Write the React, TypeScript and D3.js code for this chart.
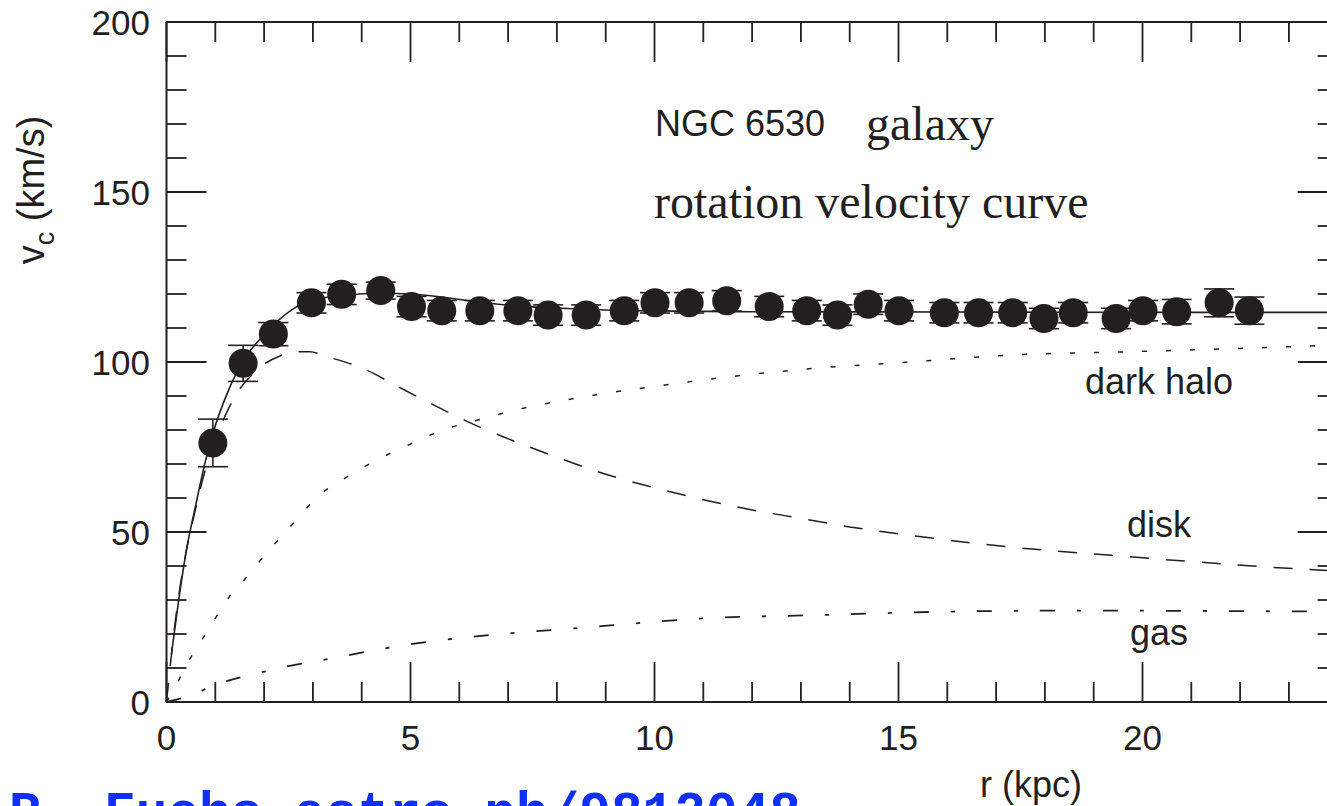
import React from "react";
import * as d3 from "d3";

// ---- data ----
const obsR = [0.95, 1.57, 2.19, 2.97, 3.59, 4.39, 5.02, 5.64, 6.42, 7.2, 7.82, 8.6, 9.38, 10.01, 10.71, 11.48, 12.35, 13.12, 13.75, 14.38, 15.01, 15.94, 16.64, 17.34, 17.98, 18.58, 19.46, 20.01, 20.7, 21.57, 22.19];
const obsV = [76.2, 99.6, 108.2, 117.4, 119.9, 121, 116.3, 115.1, 115.1, 115.1, 113.8, 113.8, 115.1, 117.4, 117.4, 118, 116.3, 115.1, 113.8, 117, 115.1, 114.5, 114.5, 114.5, 112.8, 114.5, 112.8, 115.1, 114.8, 117.4, 115.1];
const obsErr = [7, 5.3, 3.4, 3, 3, 2.5, 3, 3, 3, 3, 3, 3, 3, 3, 3, 3, 3, 3, 3, 3, 3, 3, 3, 3, 3, 3, 3, 3, 3.6, 4.1, 4];

const fitR = [0.1, 0.25, 0.4, 0.6, 0.8, 0.95, 1.25, 1.6, 2.0, 2.2, 2.7, 3.2, 3.8, 4.4, 5.0, 5.6, 6.2, 6.8, 7.5, 8.5, 9.5, 12, 16, 20, 24];
const fitV = [14, 30, 44, 58, 71, 79, 91, 101, 108, 111, 116.5, 118.8, 119.8, 120.2, 120, 119.2, 118, 117, 116.2, 115.6, 115.1, 114.8, 114.7, 114.6, 114.6];

const diskR = [0, 0.2, 0.4, 0.6, 0.79, 1.0, 1.36, 1.85, 2.36, 2.6, 2.94, 3.28, 4.03, 4.75, 5.47, 6.18, 6.9, 7.79, 9, 10, 11, 12, 13, 14, 15.2, 17, 19.3, 21, 23.6, 24];
const diskV = [0, 26, 44, 57, 68, 77, 88.8, 97.6, 102, 103, 103, 101.6, 98.1, 92.7, 87.4, 82.4, 78, 73.1, 67, 63, 59.5, 56.5, 54, 51.5, 49.1, 46, 43.2, 41.3, 38.8, 38.5];

const haloR = [0, 0.2, 0.43, 0.7, 0.96, 1.21, 1.6, 2.0, 2.5, 3.18, 3.62, 4.03, 4.48, 4.96, 5.4, 5.88, 6.32, 6.83, 7.31, 7.79, 9, 10, 11.27, 13.25, 15.24, 17.22, 19.68, 22, 24];
const haloV = [0, 5, 11.4, 17.7, 23.6, 29.5, 36, 43, 51, 61.4, 65.5, 69, 72.4, 75.6, 78.5, 81, 82.7, 84.7, 86.4, 87.8, 90.8, 92.8, 95.2, 98.1, 100, 102, 103, 104, 105];

const gasR = [0, 0.4, 0.8, 1.21, 1.8, 2.44, 3.08, 4.37, 5.0, 5.65, 7.02, 8.39, 9.58, 10.77, 13.45, 16.1, 18.76, 22.3, 24];
const gasV = [0, 1.5, 3.8, 6, 8.2, 10.4, 12, 15.5, 17, 18.2, 20.2, 21.7, 23.1, 24.4, 25.6, 26.6, 26.9, 26.7, 26.6];

const xMajor = [0, 5, 10, 15, 20];
const yMajor = [0, 50, 100, 150, 200];

const labels = [
  { text: "dark halo", r: 20.34, v: 90.7 },
  { text: "disk", r: 20.34, v: 48.5 },
  { text: "gas", r: 20.34, v: 16.8 },
];

const INK = "#231f20";
const SANS = "'Liberation Sans', Arial, Helvetica, sans-serif";
const SERIF = "'Liberation Serif', 'Times New Roman', serif";
const MONO = "'Liberation Mono', 'Courier New', monospace";

export default function App() {
  const left = 166.5, right = 1337.7, top = 22, bottom = 702;
  const x = d3.scaleLinear().domain([0, 24]).range([left, right]);
  const y = d3.scaleLinear().domain([0, 200]).range([bottom, top]);

  const line = d3
    .line<[number, number]>()
    .x((d) => x(d[0]))
    .y((d) => y(d[1]))
    .curve(d3.curveMonotoneX);
  const zip = (a: number[], b: number[]) => a.map((v, i) => [v, b[i]] as [number, number]);

  const xMinor = d3.range(0, 25, 1);
  const yMinor = d3.range(0, 201, 10);

  return (
    <svg
      width={1327}
      height={806}
      style={{ position: "absolute", left: 0, top: 0, background: "#fff" }}
    >
      <rect x={0} y={0} width={1327} height={806} fill="#fff" />
      {/* curves */}
      <path d={line(zip(haloR, haloV)) || ""} fill="none" stroke={INK} strokeWidth={1.5} strokeDasharray="5,19" />
      <path d={line(zip(diskR, diskV)) || ""} fill="none" stroke={INK} strokeWidth={1.5} strokeDasharray="19,17" />
      <path d={line(zip(gasR, gasV)) || ""} fill="none" stroke={INK} strokeWidth={1.8} strokeDasharray="15,22,4,22" />
      <path d={line(zip(fitR, fitV)) || ""} fill="none" stroke={INK} strokeWidth={1.6} />

      {/* error bars */}
      {obsR.map((r, i) => {
        const cx = x(r);
        const y1 = y(obsV[i] + obsErr[i]);
        const y2 = y(obsV[i] - obsErr[i]);
        return (
          <g key={"e" + i} stroke={INK} strokeWidth={1.6}>
            <line x1={cx} x2={cx} y1={y1} y2={y2} />
            <line x1={cx - 15} x2={cx + 15} y1={y1} y2={y1} />
            <line x1={cx - 15} x2={cx + 15} y1={y2} y2={y2} />
          </g>
        );
      })}
      {obsR.map((r, i) => (
        <circle key={"c" + i} cx={x(r)} cy={y(obsV[i])} r={14.5} fill={INK} />
      ))}

      {/* frame */}
      <g stroke={INK} strokeWidth={2} fill="none">
        <line x1={left} x2={right} y1={top} y2={top} />
        <line x1={left} x2={right} y1={bottom} y2={bottom} />
        <line x1={left} x2={left} y1={top} y2={bottom} />
        <line x1={right} x2={right} y1={top} y2={bottom} />
      </g>
      <g stroke={INK} strokeWidth={1.8}>
        {xMinor.map((t) => {
          const L = t % 5 === 0 ? 40 : 20;
          return (
            <g key={"xt" + t}>
              <line x1={x(t)} x2={x(t)} y1={bottom} y2={bottom - L} />
              <line x1={x(t)} x2={x(t)} y1={top} y2={top + L} />
            </g>
          );
        })}
        {yMinor.map((t) => {
          const L = t % 50 === 0 ? 40 : 20;
          return (
            <g key={"yt" + t}>
              <line x1={left} x2={left + L} y1={y(t)} y2={y(t)} />
              <line x1={right} x2={right - L} y1={y(t)} y2={y(t)} />
            </g>
          );
        })}
      </g>

      {/* tick labels */}
      <g fill={INK} fontFamily={SANS} fontSize={35}>
        {xMajor.map((t) => (
          <text key={"xl" + t} x={x(t)} y={750} textAnchor="middle">
            {t}
          </text>
        ))}
        {yMajor.map((t) => (
          <text key={"yl" + t} x={150} y={y(t) + 12.5} textAnchor="end">
            {t}
          </text>
        ))}
      </g>

      {/* axis titles */}
      <text x={1031} y={797} textAnchor="middle" fontFamily={SANS} fontSize={36} fill={INK}>
        r (kpc)
      </text>
      <text
        transform="translate(44,190) rotate(-90)"
        textAnchor="middle"
        fontFamily={SANS}
        fontSize={38}
        fill={INK}
      >
        v<tspan fontSize={27} dy={10}>c</tspan>
        <tspan dy={-10}> (km/s)</tspan>
      </text>

      {/* annotations */}
      <text x={655} y={136} fontFamily={SANS} fontSize={36} fill={INK}>
        NGC 6530
      </text>
      <text x={866} y={140} fontFamily={SERIF} fontSize={48} fill={INK}>
        galaxy
      </text>
      <text x={654} y={218} fontFamily={SERIF} fontSize={48} fill={INK}>
        rotation velocity curve
      </text>
      {labels.map((l) => (
        <text key={l.text} x={x(l.r)} y={y(l.v)} textAnchor="middle" fontFamily={SANS} fontSize={36} fill={INK}>
          {l.text}
        </text>
      ))}

      {/* credit */}
      <text
        x={9}
        y={829}
        fontFamily={MONO}
        fontWeight="bold"
        fontSize={52.8}
        fill="#1030ff"
        textLength={792}
        lengthAdjust="spacing"
      >
        R. Fuchs astro-ph/9812048
      </text>
    </svg>
  );
}
